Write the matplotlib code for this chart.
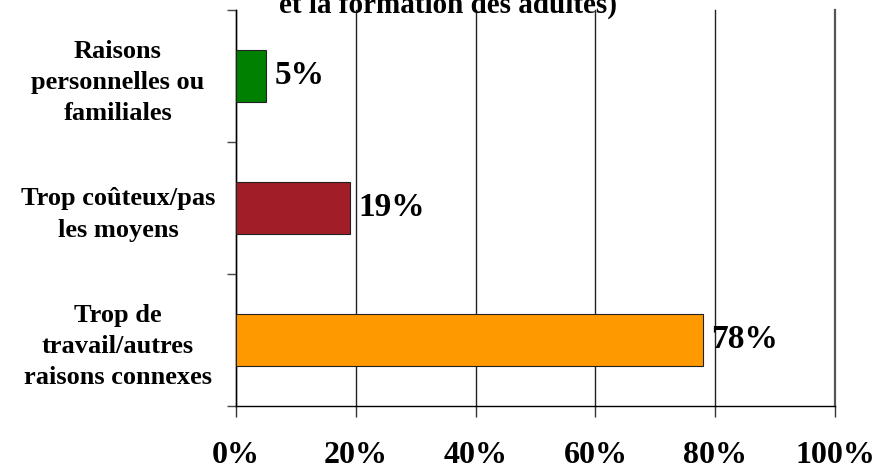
# -*- coding: utf-8 -*-
"""Raisons de ne pas suivre de formation - barres horizontales"""
import numpy as np
import matplotlib
matplotlib.use("Agg")
import matplotlib.pyplot as plt
from matplotlib.ticker import FixedLocator

# Données
categories = ["Raisons\npersonnelles ou\nfamiliales",
              "Trop coûteux/pas\nles moyens",
              "Trop de\ntravail/autres\nraisons connexes"]
valeurs = [5, 19, 78]
couleurs = ["#008000", "#A11D27", "#FF9900"]
etiquettes_x = ["0%", "20%", "40%", "60%", "80%", "100%"]
titre = "et la formation des adultes)"

plt.rcParams["font.family"] = ["Liberation Serif", "DejaVu Serif"]
plt.rcParams["font.weight"] = "bold"

fig = plt.figure(figsize=(8.88, 4.70), dpi=100)
ax = fig.add_axes([236 / 888, (470 - 406) / 470, (835 - 236) / 888, (406 - 10) / 470])

# premier en haut
pos = np.arange(len(categories))[::-1]
ax.barh(pos, valeurs, height=0.4, color=couleurs, edgecolor="#222222", linewidth=0.8, zorder=3)

for p, v in zip(pos, valeurs):
    ax.annotate(f"{v}%", (v, p), xytext=(6, 0), textcoords="offset points",
                va="center", ha="left", fontsize=24, fontweight="bold", zorder=4)

ax.set_xlim(0, 100)
ax.set_ylim(-0.5, len(categories) - 0.5)

# axe x
ax.set_xticks(np.arange(0, 101, 20))
ax.set_xticklabels(etiquettes_x, fontsize=23, fontweight="bold")
ax.tick_params(axis="x", length=8, width=1, pad=17, color="#333333")
ax.xaxis.grid(True, color="#222222", linewidth=1, zorder=0)
for g in ax.get_xgridlines():
    g.set_clip_on(False)
ax.get_xgridlines()[-1].set_color("#555555")
ax.get_xgridlines()[-1].set_linewidth(1.6)

# axe y: traits entre les catégories, textes au centre
ax.yaxis.set_major_locator(FixedLocator(np.arange(-0.5, len(categories), 1)))
ax.yaxis.set_major_formatter(plt.NullFormatter())
ax.yaxis.set_minor_locator(FixedLocator(pos))
ax.set_yticklabels(categories, minor=True, fontsize=19, fontweight="bold",
                   ha="center", multialignment="center", linespacing=1.45)
ax.tick_params(axis="y", which="major", length=6.5, width=1, color="#444444")
ax.tick_params(axis="y", which="minor", length=0, pad=85)

for s in ["top", "right"]:
    ax.spines[s].set_visible(False)
ax.spines["left"].set_linewidth(1)
ax.spines["bottom"].set_linewidth(1)

# titre (coupé en haut)
fig.text(448 / 888, 1 - 13 / 470, titre, ha="center", va="baseline",
         fontsize=21, fontweight="bold")

fig.savefig("out.png", dpi=100)
